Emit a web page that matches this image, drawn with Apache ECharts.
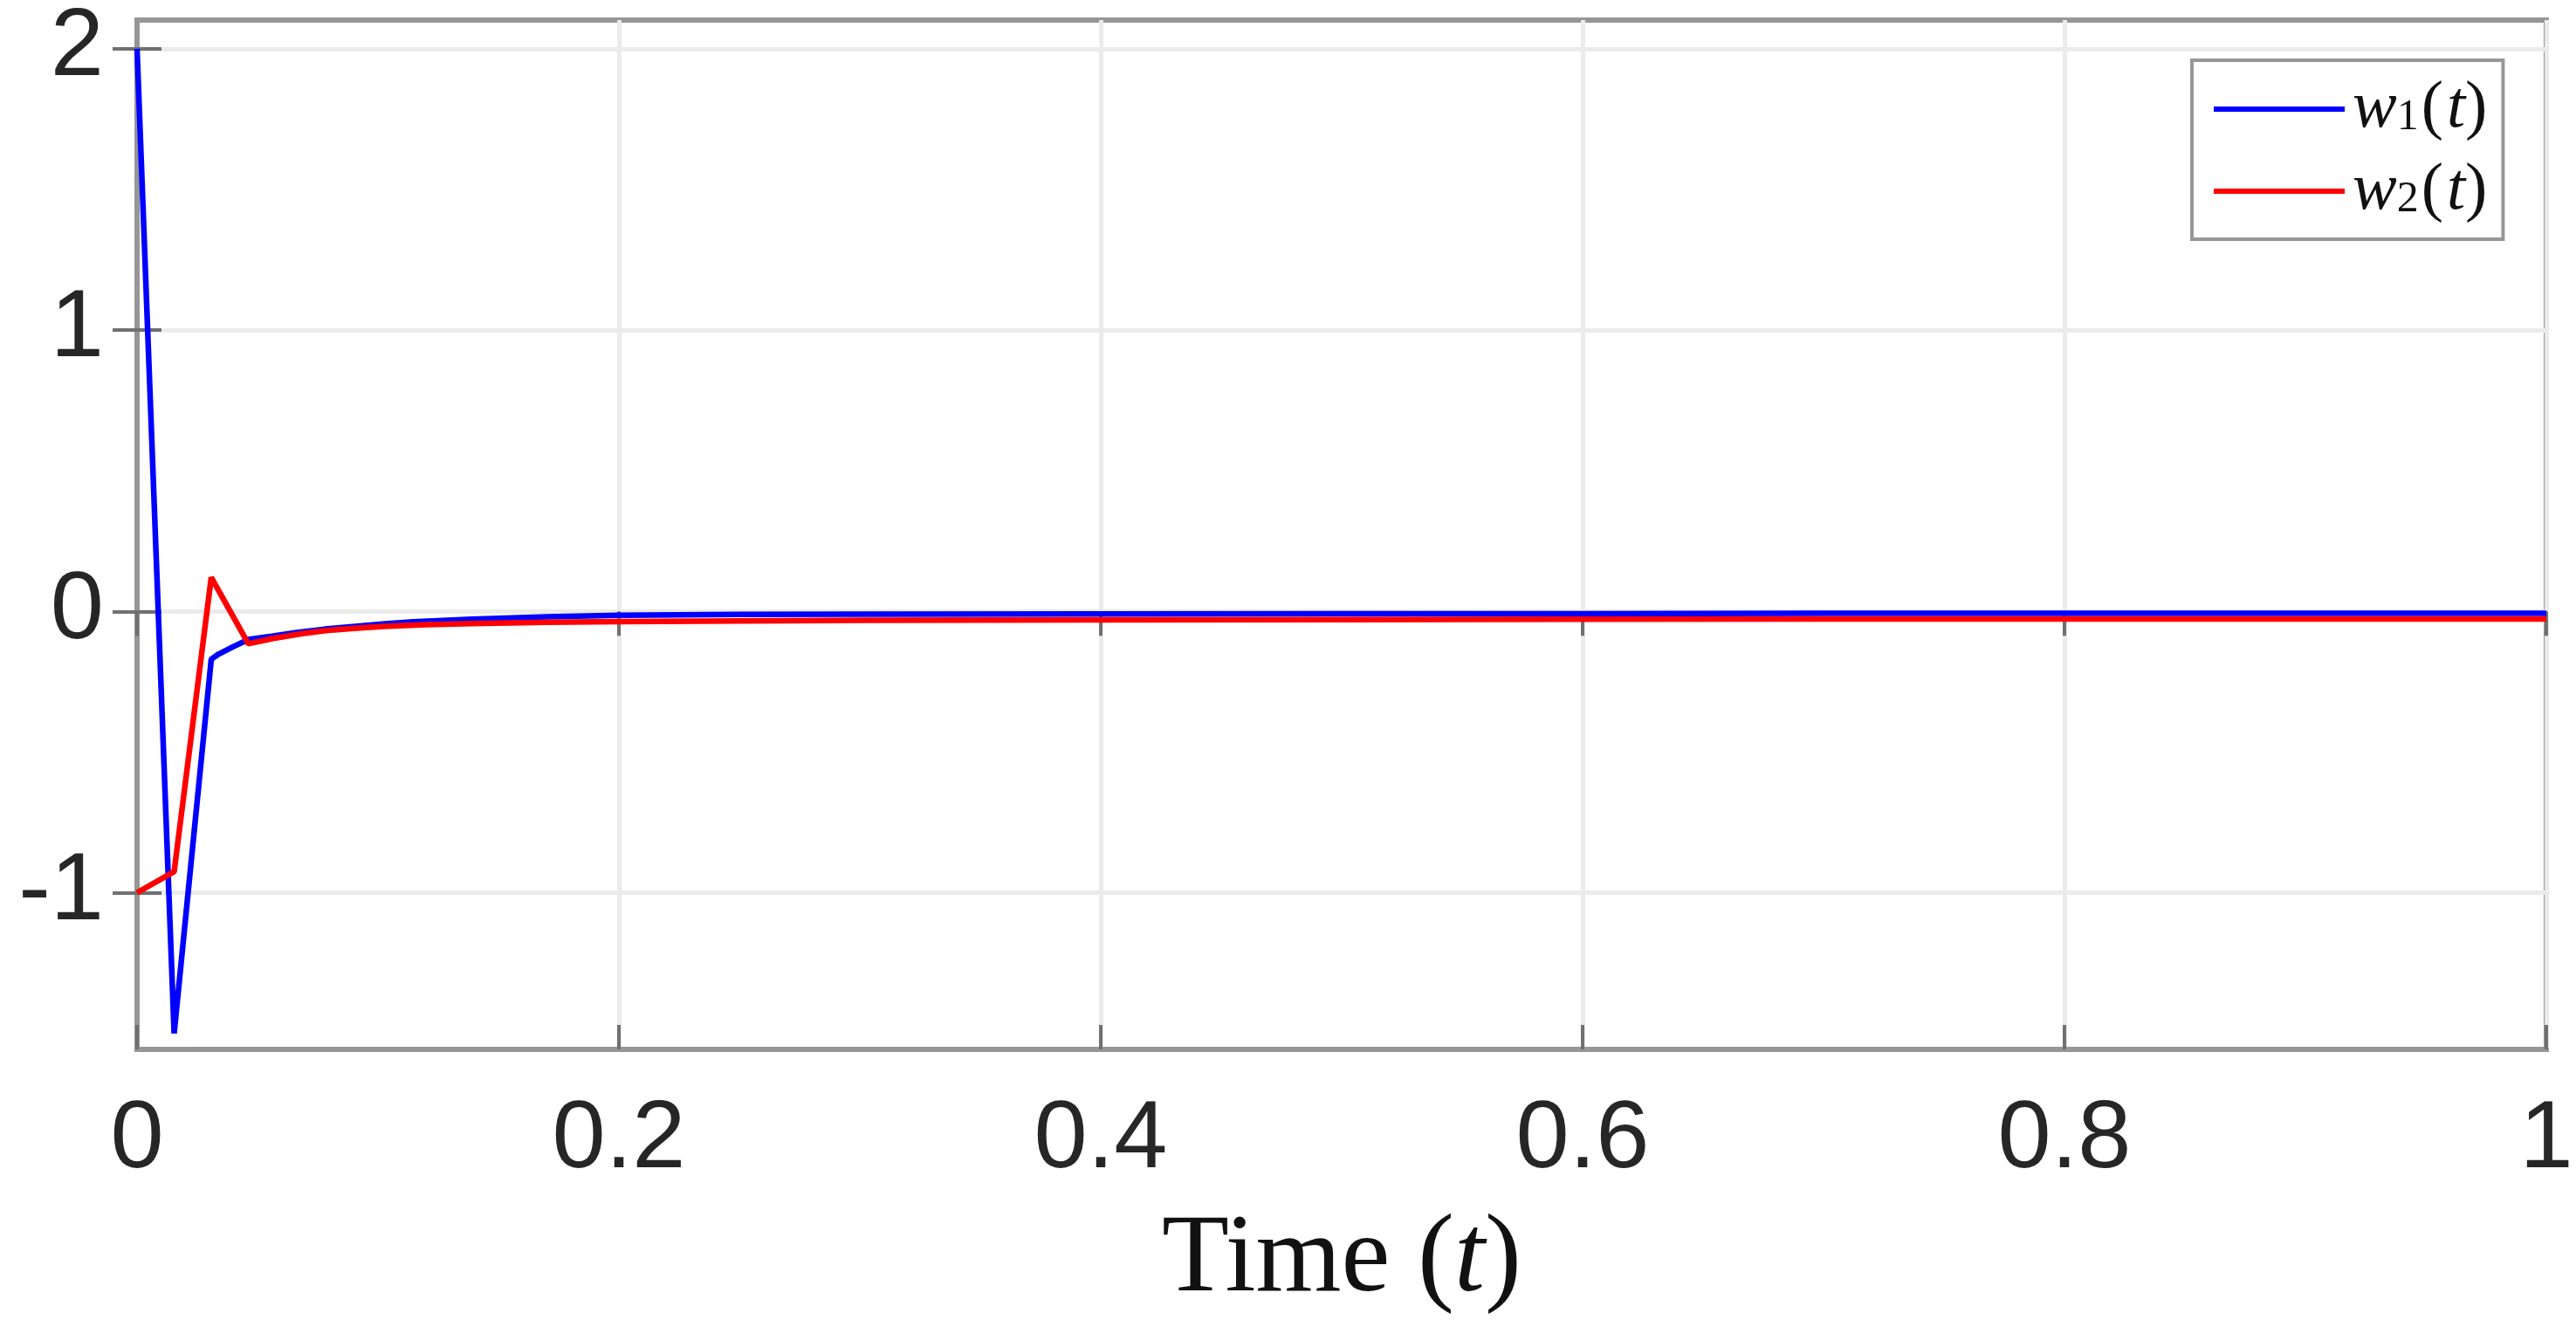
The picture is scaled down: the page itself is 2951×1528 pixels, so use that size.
<!DOCTYPE html>
<html><head><meta charset="utf-8">
<script src="https://cdn.jsdelivr.net/npm/echarts@6/dist/echarts.min.js"></script>
<style>html,body{margin:0;padding:0;background:#fff}#c{width:2951px;height:1528px}</style>
</head><body><div id="c"></div>
<script>
// ---- data ----
const xTicks = [0, 0.2, 0.4, 0.6, 0.8, 1];
const yTicks = [-1, 0, 1, 2];
const t1 = [0, 0.0154, 0.0308, 0.0338, 0.0400, 0.0462, 0.0560, 0.0663, 0.0780, 0.0906, 0.1030, 0.1145, 0.1390, 0.1700, 0.2000, 0.2500, 0.3000, 0.4000, 0.5000, 0.6000, 0.7000, 0.8000, 0.9000, 1.0000];
const w1 = [2.0, -1.50, -0.17, -0.152, -0.125, -0.100, -0.088, -0.075, -0.063, -0.053, -0.044, -0.037, -0.028, -0.019, -0.014, -0.011, -0.010, -0.009, -0.008, -0.008, -0.007, -0.007, -0.007, -0.007];
const t2 = [0, 0.0154, 0.0308, 0.0462, 0.0565, 0.0680, 0.0783, 0.0900, 0.1025, 0.1200, 0.1390, 0.1700, 0.2000, 0.2500, 0.3000, 0.4000, 0.5000, 0.6000, 0.7000, 0.8000, 0.9000, 1.0000];
const w2 = [-1.0, -0.925, 0.121, -0.115, -0.096, -0.080, -0.068, -0.060, -0.053, -0.047, -0.043, -0.039, -0.036, -0.034, -0.032, -0.030, -0.029, -0.028, -0.027, -0.027, -0.027, -0.027];
const names = ['w1(t)', 'w2(t)'];
const colors = ['#0000ff', '#ff0000'];

const pairs = (t, v) => t.map((x, i) => [x, v[i]]);
const axisGray = '#969696';
const labelFont = 'Liberation Sans, Arial, Helvetica, sans-serif';
const serif = 'Liberation Serif, Times New Roman, serif';

const chart = echarts.init(document.getElementById('c'));
chart.setOption({
  animation: false,
  backgroundColor: '#ffffff',
  grid: { left: 157, right: 34, top: 23, bottom: 326, show: true, borderColor: axisGray, borderWidth: 6, backgroundColor: 'transparent' },
  legend: {
    data: names,
    orient: 'vertical',
    left: 2511, top: 69,
    padding: [18, 18, 17, 25],
    borderColor: axisGray, borderWidth: 4,
    backgroundColor: '#ffffff',
    icon: 'rect', itemWidth: 150, itemHeight: 6, itemGap: 18,
    formatter: function (n) {
      const k = n === names[0] ? '1' : '2';
      return '{it|w}{sub|' + k + '}{rm|(}{it|t}{rm|)}';
    },
    textStyle: {
      fontSize: 76, lineHeight: 70, color: '#111',
      rich: {
        it: { fontFamily: serif, fontStyle: 'italic', fontSize: 76, padding: [0, 0, 0, 4] },
        sub: { fontFamily: serif, fontSize: 50, verticalAlign: 'bottom', padding: [20, 3, 0, 0] },
        rm: { fontFamily: serif, fontSize: 76 }
      }
    }
  },
  xAxis: [{
    type: 'value', min: 0, max: 1, interval: 0.2,
    axisLine: { show: true, onZero: false, lineStyle: { color: axisGray, width: 6 } },
    axisTick: { show: true, inside: true, length: 28, lineStyle: { color: '#707070', width: 4 } },
    axisLabel: { fontSize: 110, fontFamily: labelFont, color: '#262626', margin: 50,
      formatter: v => String(+v.toFixed(1)) },
    splitLine: { show: true, lineStyle: { color: '#ebebeb', width: 5 } },
    name: '{rm|Time (}{it|t}{rm|)}', nameLocation: 'middle', nameGap: 180,
    nameTextStyle: { fontSize: 126, color: '#111', rich: {
      rm: { fontFamily: serif, fontSize: 126 },
      it: { fontFamily: serif, fontSize: 126, fontStyle: 'italic' } } }
  }, {
    type: 'value', position: 'top', min: 0, max: 1, interval: 0.2,
    axisLine: { show: false },
    axisTick: { show: true, inside: true, length: 28, lineStyle: { color: '#707070', width: 4 } },
    axisLabel: { show: false }, splitLine: { show: false }
  }],
  yAxis: [{
    type: 'value', min: -1.557, max: 2.102,
    axisLine: { show: true, onZero: false, lineStyle: { color: axisGray, width: 6 } },
    axisTick: { show: true, inside: true, length: 28, customValues: yTicks, lineStyle: { color: '#707070', width: 4 } },
    axisLabel: { fontSize: 110, fontFamily: labelFont, color: '#262626', margin: 38, customValues: yTicks },
    splitLine: { show: true, lineStyle: { color: '#ebebeb', width: 5 } }
  }, {
    type: 'value', position: 'right', min: -1.557, max: 2.102,
    axisLine: { show: false },
    axisTick: { show: true, inside: true, length: 28, customValues: yTicks, lineStyle: { color: '#707070', width: 4 } },
    axisLabel: { show: false }, splitLine: { show: false }
  }],
  series: [
    { name: names[0], type: 'line', data: pairs(t1, w1), showSymbol: false, symbol: 'none',
      color: colors[0], lineStyle: { color: colors[0], width: 6.5 }, z: 3 },
    { name: names[1], type: 'line', data: pairs(t2, w2), showSymbol: false, symbol: 'none',
      color: colors[1], lineStyle: { color: colors[1], width: 6.5 }, z: 4 }
  ]
});
</script></body></html>
